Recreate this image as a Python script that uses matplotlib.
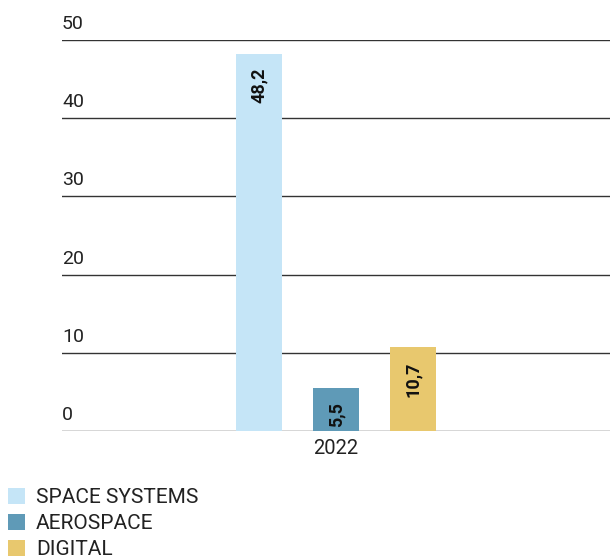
import matplotlib.pyplot as plt
import matplotlib.transforms as mtransforms
from matplotlib.patches import Patch

plt.rcParams['font.family'] = ['Roboto', 'DejaVu Sans']

# datos
categorias = ["SPACE SYSTEMS", "AEROSPACE", "DIGITAL"]
valores = [48.2, 5.5, 10.7]
etiquetas = ["48,2", "5,5", "10,7"]
colores = ["#C5E5F7", "#5F9AB7", "#E8C86E"]
anio = "2022"
yticks = [0, 10, 20, 30, 40, 50]

fig = plt.figure(figsize=(6.1, 5.59), dpi=100)
ax = fig.add_axes([62 / 610, 128 / 559, 548 / 610, 391 / 559])

posiciones = [-1, 0, 1]
ax.bar(posiciones, valores, width=0.6, color=colores, zorder=3)

# etiquetas de valor dentro de las barras, giradas
for x, v, txt in zip(posiciones, valores, etiquetas):
    ax.annotate(txt, (x, v), xytext=(0, -10), textcoords="offset points",
                rotation=90, ha="center", va="top", fontsize=13,
                fontweight="bold", color="#111111", zorder=4)

ax.set_xlim(-3.56, 3.56)
ax.set_ylim(0, 50)

# lineas horizontales en lugar de grid
for v in yticks:
    ax.axhline(v, color="#333333", linewidth=1.0, zorder=2)

# textos del eje y encima de cada linea
trans = mtransforms.blended_transform_factory(ax.transAxes, ax.transData)
for v in yticks:
    ax.annotate(str(v), (0, v), xycoords=trans, xytext=(0, 5),
                textcoords="offset points", ha="left", va="bottom",
                fontsize=14, color="#222222")

ax.set_yticks([])
ax.set_xticks([0])
ax.set_xticklabels([anio], fontsize=14.5, color="#222222")
ax.tick_params(axis="x", length=0, pad=6)
for s in ax.spines.values():
    s.set_visible(False)

handles = [Patch(facecolor=c, edgecolor="none") for c in colores]
fig.legend(handles, categorias, loc="upper left",
           bbox_to_anchor=(8 / 610, 1 - 488 / 559), frameon=False,
           fontsize=15, handlelength=0.8, handleheight=0.8,
           handletextpad=0.55, labelspacing=0.33, borderpad=0,
           borderaxespad=0, labelcolor="#222222")

plt.savefig("out.png", dpi=100)
